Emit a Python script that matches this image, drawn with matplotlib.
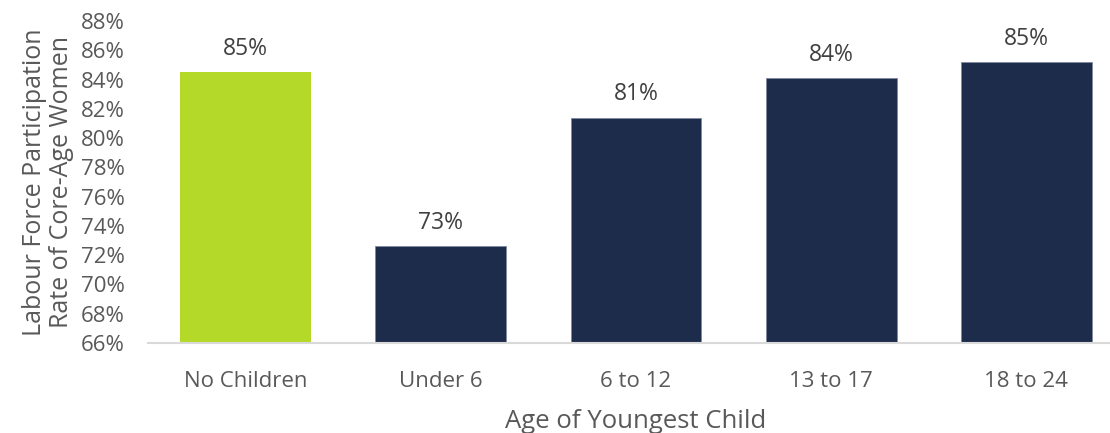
import matplotlib
matplotlib.use("Agg")
import matplotlib.pyplot as plt
from matplotlib.ticker import FuncFormatter

categories = ["No Children", "Under 6", "6 to 12", "13 to 17", "18 to 24"]
values = [84.5, 72.6, 81.4, 84.1, 85.2]
labels = ["85%", "73%", "81%", "84%", "85%"]
colors = ["#B5D928", "#1D2C4A", "#1D2C4A", "#1D2C4A", "#1D2C4A"]

plt.rcParams['font.family'] = ['Open Sans', 'DejaVu Sans']
txt = "#595959"

fig = plt.figure(figsize=(11.1, 4.33), dpi=100)
ax = fig.add_axes([148/1110, 90/433, 1 - 148/1110, (343-21)/433])

x = list(range(len(categories)))
ax.bar(x, [v - 66 for v in values], bottom=66, width=0.67, color=colors,
       edgecolor=["none"] + ["#7f8aa0"] * 4, linewidth=0.6)
for xi, v, lab in zip(x, values, labels):
    ax.annotate(lab, (xi, v), xytext=(0, 8), textcoords="offset points",
                ha="center", va="bottom", fontsize=16.5, color="#404040")

ax.set_ylim(66, 88)
ax.set_yticks(range(66, 89, 2))
ax.yaxis.set_major_formatter(FuncFormatter(lambda v, p: f"{int(v)}%"))
ax.set_xlim(-0.5, 4.5 - 14/195.3)
ax.set_xticks(x)
ax.set_xticklabels(categories)

for s in ["top", "right", "left"]:
    ax.spines[s].set_visible(False)
ax.spines["bottom"].set_color("#d9d9d9")
ax.spines["bottom"].set_linewidth(1.5)
ax.tick_params(axis="both", length=0, labelsize=16, colors=txt)
ax.tick_params(axis="x", pad=20)
ax.tick_params(axis="y", pad=17)

ax.set_xlabel("Age of Youngest Child", fontsize=18.5, color=txt, labelpad=12)
ax.xaxis.set_label_coords((636 - 148) / 962, -0.205)
ax.set_ylabel("Labour Force Participation\nRate of Core-Age Women", fontsize=18,
              color=txt, labelpad=5, linespacing=1.1)

fig.savefig("out.png", dpi=100, facecolor="white")
